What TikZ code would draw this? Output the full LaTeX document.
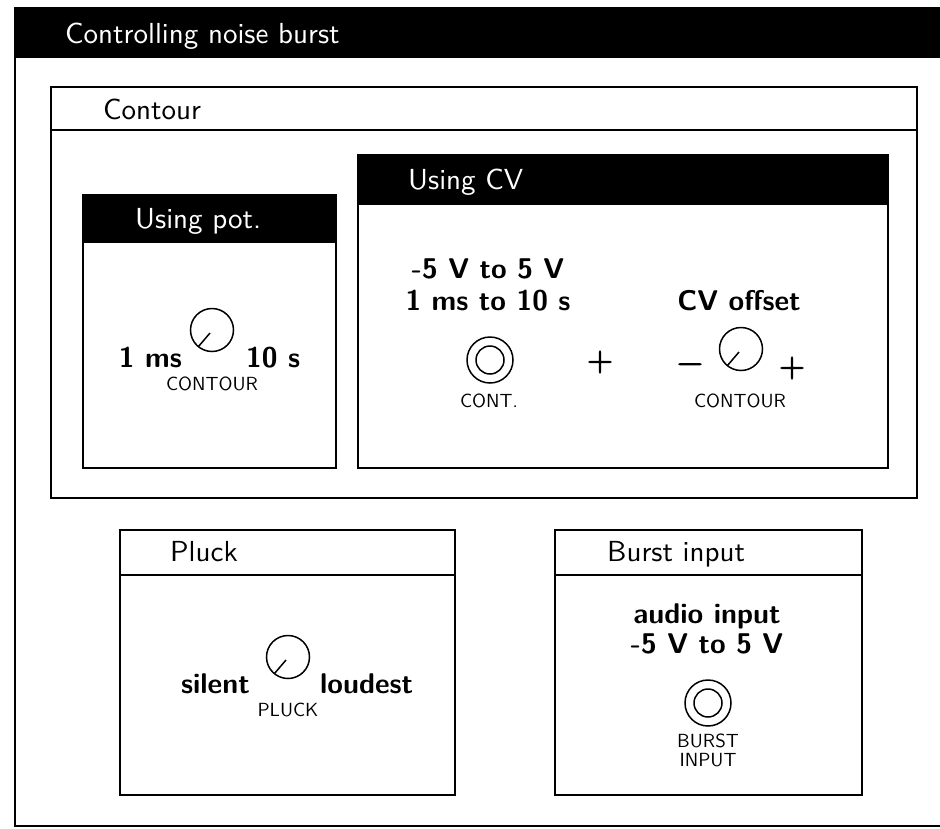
\documentclass[tikz,border=0pt]{standalone}
\usepackage{fontspec}
\setsansfont{lmsans10-regular.otf}[BoldFont=lmsans10-bold.otf]
\newfontfamily\symfont{lmroman10-regular.otf}[BoldFont=lmroman10-regular.otf, BoldFeatures={FakeBold=3}]
\usetikzlibrary{calc}
\begin{document}
\begin{tikzpicture}[x=1pt,y=-1pt,
  frame/.style={line width=2.2pt},
  titlew/.style={anchor=base west, text=white, inner sep=0pt, font=\sffamily\fontsize{29}{35}\selectfont},
  titleb/.style={anchor=base west, text=black, inner sep=0pt, font=\sffamily\fontsize{29}{35}\selectfont},
  big/.style={inner sep=0pt, font=\sffamily\bfseries\fontsize{28.5}{32}\selectfont},
  small/.style={inner sep=0pt, anchor=base, font=\sffamily\fontsize{19}{20}\selectfont},
  sym/.style={inner sep=0pt, font=\symfont\bfseries\fontsize{33}{35}\selectfont},
  knob/.style={circle, draw, line width=1.5pt, minimum size=43pt, inner sep=0pt},
  ptr/.style={line width=1.5pt},
  jackout/.style={circle, draw, line width=1.5pt, minimum size=46pt, inner sep=0pt},
  jackin/.style={circle, draw, line width=1.5pt, minimum size=28pt, inner sep=0pt}
]
\useasboundingbox (0,0) rectangle (940,828);

% outer frame
\fill[black] (15,8) rectangle (975,58);
\draw[frame] (15,8) rectangle (975,826);
\node[titlew] (tMain) at (65,43) {Controlling noise burst};

% Contour
\draw[frame] (51,87) rectangle (917,498);
\draw[frame] (51,130) -- (917,130);
\node[titleb] (tContour) at (103,119) {Contour};

% Using pot.
\fill[black] (83,195) rectangle (336,243);
\draw[frame] (83,195) rectangle (336,468);
\node[titlew] (tPot) at (135,228) {Using pot.};
\node[knob] (kPot) at (212,330) {};
\draw[ptr] ($(kPot.center)+(-2,3)$) -- ($(kPot.center)+(-13.5,16.5)$);
\node[big, anchor=base east] (potLo) at (182,367) {1 ms};
\node[big, anchor=base west] (potHi) at (246,367) {10 s};
\node[small] (potLab) at (212,390) {CONTOUR};

% Using CV
\fill[black] (358,155) rectangle (888,205);
\draw[frame] (358,155) rectangle (888,468);
\node[titlew] (tCV) at (408,189) {Using CV};
\node[big, anchor=base] (cvL1) at (488,278) {-5 V to 5 V};
\node[big, anchor=base] (cvL2) at (488,310) {1 ms to 10 s};
\node[jackout] (jCV) at (490,360) {};
\node[jackin] (jCVin) at (jCV.center) {};
\node[small] (cvJackLab) at (489,407) {CONT.};
\node[sym] (plusMid) at (600,362) {+};
\node[big, anchor=base] (cvOff) at (739,310) {CV offset};
\node[knob] (kCV) at (741,349) {};
\draw[ptr] ($(kCV.center)+(-2,3)$) -- ($(kCV.center)+(-13.5,16.5)$);
\node[sym] (minusCV) at (690,368) {−};
\node[sym] (plusCV) at (792,368) {+};
\node[small] (cvKnobLab) at (740,407) {CONTOUR};

% Pluck
\draw[frame] (120,530) rectangle (455,795);
\draw[frame] (120,575) -- (455,575);
\node[titleb] (tPluck) at (170,561) {Pluck};
\node[knob] (kPluck) at (288,657) {};
\draw[ptr] ($(kPluck.center)+(-2,3)$) -- ($(kPluck.center)+(-13.5,16.5)$);
\node[big, anchor=base east] (plLo) at (250,693) {silent};
\node[big, anchor=base west] (plHi) at (320,693) {loudest};
\node[small] (plLab) at (288,716) {PLUCK};

% Burst input
\draw[frame] (555,530) rectangle (862,795);
\draw[frame] (555,575) -- (862,575);
\node[titleb] (tBurst) at (607,561) {Burst input};
\node[big, anchor=base] (bL1) at (707,623) {audio input};
\node[big, anchor=base] (bL2) at (707,653) {-5 V to 5 V};
\node[jackout] (jB) at (708,703) {};
\node[jackin] (jBin) at (jB.center) {};
\node[small] (bLab1) at (708,747) {BURST};
\node[small] (bLab2) at (708,766) {INPUT};
\end{tikzpicture}
\end{document}
